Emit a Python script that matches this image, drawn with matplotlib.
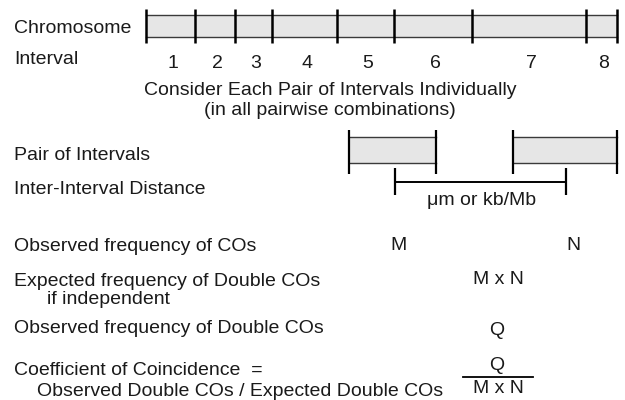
import matplotlib
matplotlib.use("Agg")
import matplotlib.pyplot as plt
from matplotlib.patches import Rectangle

plt.rcParams['font.family'] = ['Liberation Sans', 'DejaVu Sans']

# ---- data ----
chromosome_boundaries = [146, 195, 235, 272, 337, 394, 472, 586, 617]
interval_labels = ['1', '2', '3', '4', '5', '6', '7', '8']
pair_intervals = [(349, 436), (513, 617)]
distance_span = (395, 566)

row_labels = ['Observed frequency of COs',
              'Expected frequency of Double COs',
              'Observed frequency of Double COs',
              'Coefficient of Coincidence  =']

TXT = '#1a1a1a'
FS = 14
FILL = '#e6e6e6'
EDGE = '#3a3a3a'

fig = plt.figure(figsize=(6.25, 4.0), dpi=100)
ax = fig.add_axes([0, 0, 1, 1])
ax.set_xlim(0, 625)
ax.set_ylim(400, 0)
ax.axis('off')

def txt(x, y, s, ha='left'):
    ax.text(x, y, s, ha=ha, va='baseline', fontsize=FS, color=TXT)

# ---- chromosome ----
txt(14, 33, 'Chromosome')
txt(14, 64, 'Interval')
x0, x1 = chromosome_boundaries[0], chromosome_boundaries[-1]
ax.add_patch(Rectangle((x0, 15), x1 - x0, 22, facecolor=FILL, edgecolor='none'))
ax.plot([x0, x1], [15, 15], color=EDGE, lw=1.0)
ax.plot([x0, x1], [37, 37], color=EDGE, lw=1.0)
for b in chromosome_boundaries:
    ax.plot([b, b], [9, 43], color='black', lw=1.8, solid_capstyle='butt')
for i, lab in enumerate(interval_labels):
    mid = (chromosome_boundaries[i] + chromosome_boundaries[i + 1]) / 2 + 2
    txt(mid, 68, lab, ha='center')

txt(330, 95, 'Consider Each Pair of Intervals Individually', ha='center')
txt(330, 115, '(in all pairwise combinations)', ha='center')

# ---- pair of intervals ----
txt(14, 160, 'Pair of Intervals')
txt(14, 194, 'Inter-Interval Distance')
for a, b in pair_intervals:
    ax.add_patch(Rectangle((a, 137), b - a, 26, facecolor=FILL, edgecolor='none'))
    ax.plot([a, b], [137, 137], color=EDGE, lw=1.0)
    ax.plot([a, b], [163, 163], color=EDGE, lw=1.0)
    for xx in (a, b):
        ax.plot([xx, xx], [130, 174], color='black', lw=1.6, solid_capstyle='butt')
d0, d1 = distance_span
ax.plot([d0, d1], [182, 182], color='black', lw=1.4)
for xx in (d0, d1):
    ax.plot([xx, xx], [168, 195], color='black', lw=1.6, solid_capstyle='butt')
txt((d0 + d1) / 2 + 1, 205, '\u03bcm or kb/Mb', ha='center')

# ---- rows ----
txt(14, 251, row_labels[0])
txt(399, 250, 'M', ha='center')
txt(573, 250, 'N', ha='center')

txt(14, 286, row_labels[1])
txt(47, 304, 'if independent')
txt(498, 284, 'M x N', ha='center')

txt(14, 333, row_labels[2])
txt(497, 335, 'Q', ha='center')

txt(14, 375, row_labels[3])
txt(37, 396, 'Observed Double COs / Expected Double COs')
txt(497, 370, 'Q', ha='center')
ax.plot([463, 533], [377, 377], color='black', lw=1.3)
txt(498, 393, 'M x N', ha='center')

fig.savefig('out.png', dpi=100, facecolor='white')
